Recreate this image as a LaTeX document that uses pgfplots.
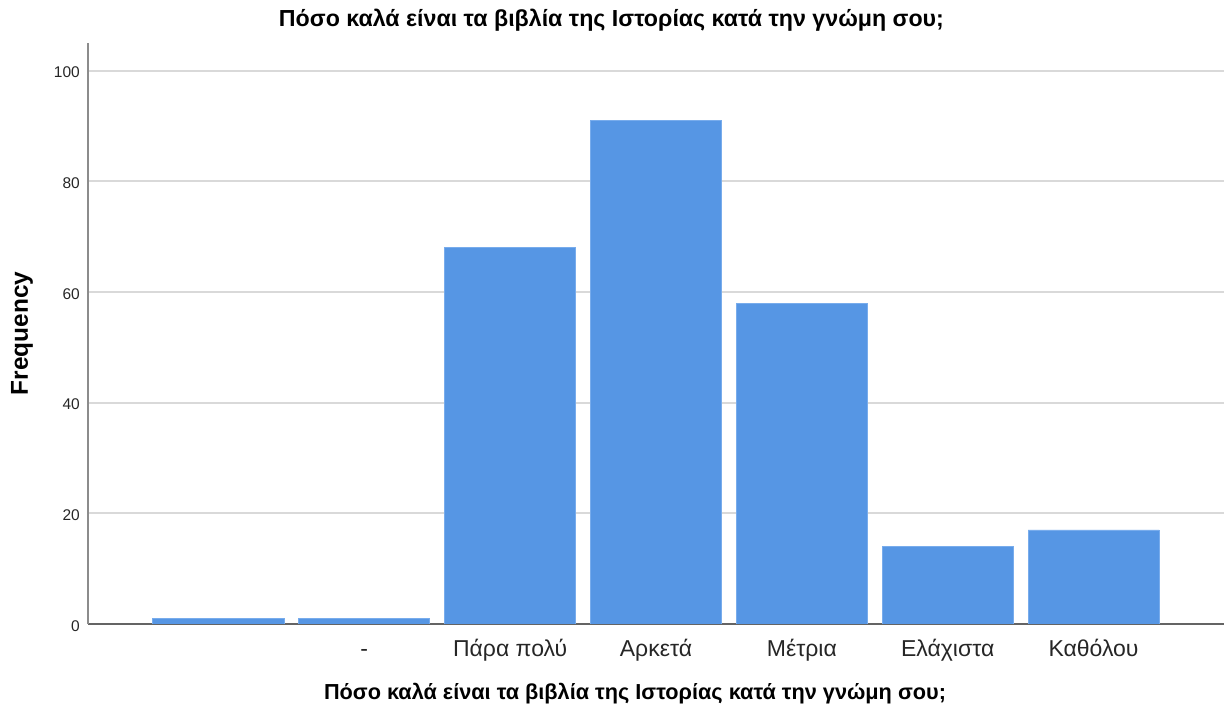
\documentclass[border=0pt]{standalone}
\usepackage{pgfplots}
\pgfplotsset{compat=1.18}
\usepackage{fontspec}
\setmainfont{Liberation Sans}
\definecolor{barblue}{RGB}{86,150,228}
\definecolor{baredge}{RGB}{120,172,236}
\definecolor{gridgray}{RGB}{217,217,217}
\definecolor{axgray}{RGB}{140,140,140}
\definecolor{axdark}{RGB}{100,100,100}
\begin{document}
\begin{tikzpicture}
\path[use as bounding box] (0,0) rectangle (1232pt,709pt);
\begin{axis}[
  at={(88pt,85pt)},
  scale only axis,
  width=1136pt, height=581pt,
  xmin=-0.894, xmax=6.894,
  ymin=0, ymax=105,
  axis x line*=bottom,
  axis y line*=left,
  x axis line style={draw=axdark, line width=1.5pt, -},
  y axis line style={draw=axgray, line width=2pt, -},
  major tick length=0pt,
  xtick={0,1,2,3,4,5,6},
  xticklabels={{},{-},{Πάρα πολύ},{Αρκετά},{Μέτρια},{Ελάχιστα},{Καθόλου}},
  ytick={0,20,40,60,80,100},
  ymajorgrids,
  grid style={draw=gridgray, line width=2pt},
  /pgf/number format/assume math mode=true,
  tick label style={text=black!85},
  xticklabel style={anchor=base, yshift=-33pt, inner sep=0pt, font=\fontsize{23}{26}\selectfont},
  yticklabel style={anchor=east, inner sep=0pt, xshift=-8pt, yshift=-2pt, font=\fontsize{15.5}{18}\selectfont},
  title={Πόσο καλά είναι τα βιβλία της Ιστορίας κατά την γνώμη σου;},
  title style={at={(axis description cs:0.4608,1.0189)}, anchor=base, font=\bfseries\fontsize{23.2}{26}\selectfont, inner sep=0pt},
  xlabel={Πόσο καλά είναι τα βιβλία της Ιστορίας κατά την γνώμη σου;},
  xlabel style={at={(axis description cs:0.4815,-0.1308)}, anchor=base, font=\bfseries\fontsize{21.7}{26}\selectfont, inner sep=0pt},
  ylabel={Frequency},
  ylabel style={at={(axis description cs:-0.0581,0.5)}, anchor=center, rotate=0, font=\bfseries\fontsize{24.4}{28}\selectfont, inner sep=0pt},
]
\addplot[ybar, bar width=131pt, fill=barblue, draw=baredge, line width=0.8pt] coordinates {
  (0,1) (1,1) (2,68) (3,91) (4,58) (5,14) (6,17)
};
\end{axis}
\end{tikzpicture}
\end{document}
